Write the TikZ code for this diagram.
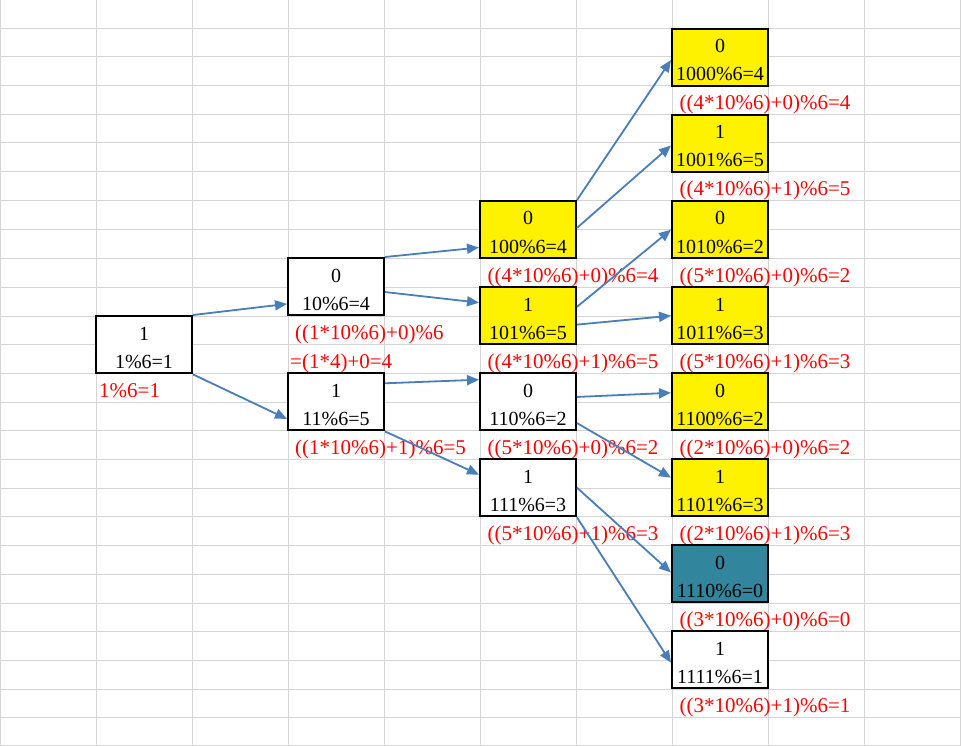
\documentclass[tikz,border=0pt]{standalone}
\usepackage{fontspec}
\setmainfont{Liberation Serif}
\usetikzlibrary{arrows.meta,calc}
\definecolor{gridc}{HTML}{D4D4D4}
\definecolor{arr}{HTML}{4A7EBB}
\definecolor{tealbox}{HTML}{31859C}
\tikzset{
  cellbox/.style={draw=black, line width=2pt, minimum width=96pt, minimum height=57.4pt, inner sep=0pt, anchor=center},
  btxt/.style={anchor=base, inner sep=0pt, text=black, font=\fontsize{20}{20}\selectfont},
  lbl/.style={anchor=base west, inner sep=0pt, text=red, font=\fontsize{21}{21}\selectfont},
  conn/.style={draw=arr, line width=1.8pt, -{Triangle[length=12pt,width=10pt]}},
}
% #1 name, #2 left x, #3 top y, #4 fill, #5 top text, #6 bottom text
\newcommand\mkbox[6]{%
  \node[cellbox, fill=#4] (#1) at (#2+48,#3+28.7) {};
  \node[btxt] (#1t) at (#2+48,#3+24) {#5};
  \node[btxt] (#1b) at (#2+48,#3+52) {#6};
}
\begin{document}
\begin{tikzpicture}[x=1pt,y=-1pt]
\useasboundingbox (0,0) rectangle (961,746);
\fill[white] (0,0) rectangle (961,746);
% grid
\foreach \x in {0,96,192,288,384,480,576,672,768,864,960}
  \draw[gridc, line width=1pt] (\x,0) -- (\x,746);
\foreach \y in {0,29,57,86,115,143,172,201,230,258,287,316,344,373,402,430,459,488,516,545,574,603,631,660,689,717,745}
  \draw[gridc, line width=1pt] (0,\y) -- (961,\y);

% boxes
\mkbox{A}{96}{316}{white}{1}{1\%6=1}
\mkbox{B}{288}{258}{white}{0}{10\%6=4}
\mkbox{C}{288}{373}{white}{1}{11\%6=5}
\mkbox{D}{480}{201}{yellow}{0}{100\%6=4}
\mkbox{E}{480}{287}{yellow}{1}{101\%6=5}
\mkbox{F}{480}{373}{white}{0}{110\%6=2}
\mkbox{G}{480}{459}{white}{1}{111\%6=3}
\mkbox{H}{672}{29}{yellow}{0}{1000\%6=4}
\mkbox{I}{672}{115}{yellow}{1}{1001\%6=5}
\mkbox{J}{672}{201}{yellow}{0}{1010\%6=2}
\mkbox{K}{672}{287}{yellow}{1}{1011\%6=3}
\mkbox{L}{672}{373}{yellow}{0}{1100\%6=2}
\mkbox{M}{672}{459}{yellow}{1}{1101\%6=3}
\mkbox{N}{672}{545}{tealbox}{0}{1110\%6=0}
\mkbox{O}{672}{631}{white}{1}{1111\%6=1}

% labels
\node[lbl] (lA) at (99,397.5) {1\%6=1};
\node[lbl] (lB1) at (295,339.5) {((1*10\%6)+0)\%6};
\node[lbl] (lB2) at (290,368) {=(1*4)+0=4};
\node[lbl] (lC) at (295,454) {((1*10\%6)+1)\%6=5};
\node[lbl] (lD) at (487.5,282) {((4*10\%6)+0)\%6=4};
\node[lbl] (lE) at (487.5,368) {((4*10\%6)+1)\%6=5};
\node[lbl] (lF) at (487.5,454) {((5*10\%6)+0)\%6=2};
\node[lbl] (lG) at (487.5,540) {((5*10\%6)+1)\%6=3};
\node[lbl] (lH) at (679.5,109.5) {((4*10\%6)+0)\%6=4};
\node[lbl] (lI) at (679.5,195.5) {((4*10\%6)+1)\%6=5};
\node[lbl] (lJ) at (679.5,282) {((5*10\%6)+0)\%6=2};
\node[lbl] (lK) at (679.5,368) {((5*10\%6)+1)\%6=3};
\node[lbl] (lL) at (679.5,454) {((2*10\%6)+0)\%6=2};
\node[lbl] (lM) at (679.5,540) {((2*10\%6)+1)\%6=3};
\node[lbl] (lN) at (679.5,626) {((3*10\%6)+0)\%6=0};
\node[lbl] (lO) at (679.5,712) {((3*10\%6)+1)\%6=1};

% connectors
\draw[conn] (A.north east) -- ($(B.north west)!0.79!(B.south west)$);
\draw[conn] (A.south east) -- ($(C.north west)!0.79!(C.south west)$);
\draw[conn] (B.north east) -- ($(D.north west)!0.80!(D.south west)$);
\draw[conn] ($(B.north east)!0.59!(B.south east)$) -- ($(E.north west)!0.28!(E.south west)$);
\draw[conn] ($(C.north east)!0.19!(C.south east)$) -- ($(F.north west)!0.13!(F.south west)$);
\draw[conn] (C.south east) -- ($(G.north west)!0.28!(G.south west)$);
\draw[conn] (D.north east) -- ($(H.north west)!0.54!(H.south west)$);
\draw[conn] ($(D.north east)!0.47!(D.south east)$) -- ($(I.north west)!0.53!(I.south west)$);
\draw[conn] ($(E.north east)!0.35!(E.south east)$) -- ($(J.north west)!0.5!(J.south west)$);
\draw[conn] ($(E.north east)!0.65!(E.south east)$) -- ($(K.north west)!0.5!(K.south west)$);
\draw[conn] ($(F.north east)!0.42!(F.south east)$) -- ($(L.north west)!0.35!(L.south west)$);
\draw[conn] ($(F.north east)!0.86!(F.south east)$) -- ($(M.north west)!0.33!(M.south west)$);
\draw[conn] ($(G.north east)!0.5!(G.south east)$) -- ($(N.north west)!0.48!(N.south west)$);
\draw[conn] (G.south east) -- ($(O.north west)!0.55!(O.south west)$);
\end{tikzpicture}
\end{document}
